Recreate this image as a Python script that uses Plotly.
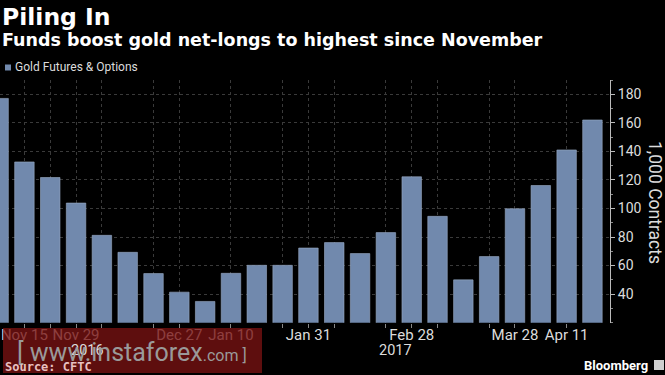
import plotly.graph_objects as go

weeks = ["Nov 8", "Nov 15", "Nov 22", "Nov 29", "Dec 6", "Dec 13", "Dec 20", "Dec 27",
         "Jan 3", "Jan 10", "Jan 17", "Jan 24", "Jan 31", "Feb 7", "Feb 14", "Feb 21",
         "Feb 28", "Mar 7", "Mar 14", "Mar 21", "Mar 28", "Apr 4", "Apr 11", "Apr 18"]
net_longs = [177.1, 132.6, 121.7, 103.8, 81.2, 69.3, 54.4, 41.4,
             34.9, 54.6, 60.2, 60.2, 72.3, 76.1, 68.4, 83.1,
             122.2, 94.5, 50.0, 66.3, 99.8, 116.1, 141.0, 162.0]
grid_weeks = ["Nov 15", "Nov 22", "Nov 29", "Dec 6", "Dec 20", "Dec 27", "Jan 10", "Jan 24",
              "Jan 31", "Feb 7", "Feb 21", "Feb 28", "Mar 7", "Mar 21", "Mar 28", "Apr 11"]
label_weeks = ["Nov 15", "Nov 29", "Dec 27", "Jan 10", "Jan 31", "Feb 28", "Mar 28", "Apr 11"]
y_ticks = [40, 60, 80, 100, 120, 140, 160, 180]

W, H = 665, 375
xi = list(range(len(weeks)))
tickvals = [weeks.index(w) for w in grid_weeks]
ticktext = [w if w in label_weeks else "" for w in grid_weeks]

BAR = "#7189ad"
TXT = "#dcdcdc"
FONT = "Roboto, 'Liberation Sans', sans-serif"
TFONT = "'DejaVu Sans', sans-serif"

fig = go.Figure()
fig.add_trace(go.Bar(
    x=xi, y=net_longs, name="Gold Futures & Options",
    marker=dict(color=BAR, line=dict(color="#9aabc4", width=0.6)),
    width=0.755, showlegend=False,
))

def px(x):
    return x / W

def py(y):
    return 1 - y / H

fig.update_layout(
    width=W, height=H,
    margin=dict(l=0, r=0, t=0, b=0),
    paper_bgcolor="black", plot_bgcolor="black",
    font=dict(family=FONT, color=TXT, size=13),
    xaxis=dict(
        domain=[0, px(610)],
        range=[0.054, 23.68],
        tickmode="array", tickvals=tickvals, ticktext=ticktext,
        tickfont=dict(size=15, color=TXT),
        ticks="outside", ticklen=4, tickcolor="#888",
        ticklabelstandoff=-6,
        showgrid=True, gridcolor="#3a3a3a", griddash="dot", gridwidth=1,
        showline=False, zeroline=False, fixedrange=True,
    ),
    yaxis=dict(
        domain=[py(322.7), py(80)],
        range=[20, 190],
        side="right",
        tickmode="array", tickvals=y_ticks,
        tickfont=dict(size=14, color=TXT),
        ticks="outside", ticklen=4, tickcolor="#bbb",
        minor=dict(dtick=10, ticks="outside", ticklen=2, tickcolor="#888", showgrid=False),
        showgrid=True, gridcolor="#3a3a3a", griddash="dot", gridwidth=1,
        showline=True, linecolor="#bbb", linewidth=1,
        zeroline=False, fixedrange=True,
    ),
    bargap=0.25,
)

ann = []
ann.append(dict(text="<b>Piling In</b>", x=0, y=py(1), xref="paper", yref="paper",
                xanchor="left", yanchor="top", showarrow=False,
                font=dict(size=23.5, color="white", family=TFONT)))
ann.append(dict(text="<b>Funds boost gold net-longs to highest since November</b>", x=0, y=py(28),
                xref="paper", yref="paper", xanchor="left", yanchor="top", showarrow=False,
                font=dict(size=17.5, color="white", family=TFONT)))
ann.append(dict(text="Gold Futures & Options", x=px(13), y=py(67), xref="paper", yref="paper",
                xanchor="left", yanchor="middle", showarrow=False,
                font=dict(size=12, color=TXT, family=FONT)))
ann.append(dict(text="1,000 Contracts", x=px(655), y=py(202), xref="paper", yref="paper",
                xanchor="center", yanchor="middle", textangle=90, showarrow=False,
                font=dict(size=17.5, color=TXT, family=FONT)))
ann.append(dict(text="2016", x=px(88), y=py(350), xref="paper", yref="paper",
                xanchor="center", yanchor="middle", showarrow=False,
                font=dict(size=14.5, color=TXT, family=FONT)))
ann.append(dict(text="2017", x=px(395), y=py(350), xref="paper", yref="paper",
                xanchor="center", yanchor="middle", showarrow=False,
                font=dict(size=14.5, color=TXT, family=FONT)))
ann.append(dict(text="<b>Bloomberg</b>", x=px(650), y=py(365), xref="paper", yref="paper",
                xanchor="right", yanchor="middle", showarrow=False,
                font=dict(size=13, color="white", family=FONT)))
ann.append(dict(text="[ www.instaforex<span style='font-size:16px'>.com ]</span>",
                x=px(15), y=py(352), xref="paper", yref="paper",
                xanchor="left", yanchor="middle", showarrow=False,
                font=dict(size=25, color="#9a9a9a", family=FONT)))
ann.append(dict(text="<b>Source: CFTC</b>", x=px(3), y=py(367), xref="paper", yref="paper",
                xanchor="left", yanchor="middle", showarrow=False,
                font=dict(size=12, color="#e8c0c0", family="'DejaVu Sans Mono', monospace")))
fig.update_layout(annotations=ann)

fig.update_layout(shapes=[
    dict(type="rect", xref="paper", yref="paper", x0=px(5), x1=px(11), y0=py(70.5), y1=py(64.5),
         fillcolor=BAR, line=dict(width=0)),
    dict(type="rect", xref="paper", yref="paper", x0=px(654), x1=px(664), y0=py(370), y1=py(360),
         fillcolor="#cfcfcf", line=dict(width=0)),
    dict(type="rect", xref="paper", yref="paper", x0=px(3), x1=px(262), y0=py(373), y1=py(328),
         fillcolor="rgba(120,18,18,0.78)", line=dict(width=0), layer="above"),
])

fig.write_html("out.html", config={"displayModeBar": False},
               post_script="document.body.style.margin='0';document.body.style.overflow='hidden';")
